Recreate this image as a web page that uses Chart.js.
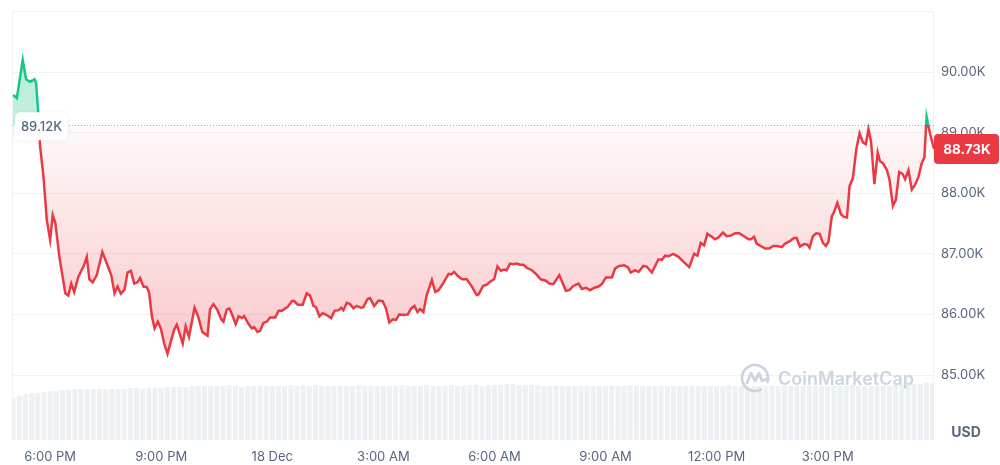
<!DOCTYPE html>
<html>
<head>
<meta charset="utf-8">
<script src="https://cdn.jsdelivr.net/npm/chart.js@4.4.1/dist/chart.umd.min.js"></script>
<style>
  html, body { margin: 0; padding: 0; background: #fff; }
  #priceChart { display: block; }
</style>
</head>
<body>
<canvas id="priceChart" width="1000" height="465"></canvas>
<script>
// ---------------- DATA ----------------
// time in hours after 6:00 PM (17 Dec), price in thousands of USD
const priceHours = [
  -1.00,-0.90,-0.74,-0.65,-0.54,-0.42,-0.38,-0.32,-0.27,-0.18,
  -0.09,0.00,0.07,0.14,0.25,0.41,0.49,0.57,0.65,0.76,
  0.90,0.99,1.06,1.15,1.26,1.41,1.53,1.65,1.74,1.82,
  1.91,2.01,2.09,2.18,2.27,2.36,2.43,2.52,2.61,2.67,
  2.75,2.82,2.91,2.99,3.08,3.17,3.26,3.35,3.42,3.51,
  3.58,3.66,3.75,3.90,4.00,4.11,4.25,4.32,4.41,4.52,
  4.62,4.68,4.77,4.84,4.92,5.01,5.09,5.18,5.24,5.36,
  5.45,5.51,5.60,5.67,5.76,5.85,5.94,6.08,6.17,6.26,
  6.35,6.41,6.53,6.59,6.69,6.82,6.93,7.02,7.11,7.18,
  7.27,7.36,7.47,7.59,7.68,7.79,7.86,7.92,8.01,8.10,
  8.19,8.28,8.39,8.46,8.57,8.64,8.75,8.87,8.98,9.07,
  9.16,9.25,9.34,9.43,9.54,9.66,9.75,9.84,9.92,9.99,
  10.08,10.17,10.31,10.40,10.49,10.62,10.76,10.83,10.91,11.00,
  11.12,11.25,11.39,11.52,11.57,11.69,11.79,11.88,11.99,12.08,
  12.17,12.26,12.33,12.42,12.51,12.60,12.69,12.78,12.87,13.01,
  13.12,13.25,13.37,13.48,13.59,13.75,13.86,13.93,14.02,14.13,
  14.27,14.36,14.47,14.58,14.70,14.81,14.90,15.01,15.17,15.26,
  15.37,15.50,15.60,15.68,15.80,15.89,16.02,16.11,16.25,16.43,
  16.52,16.61,16.70,16.83,16.97,17.10,17.26,17.39,17.48,17.57,
  17.66,17.75,17.87,17.96,18.05,18.17,18.27,18.38,18.50,18.61,
  18.74,18.86,18.93,19.01,19.08,19.22,19.31,19.42,19.53,19.64,
  19.76,19.85,19.98,20.09,20.16,20.25,20.36,20.45,20.51,20.60,
  20.69,20.78,20.87,20.95,21.02,21.11,21.17,21.26,21.36,21.44,
  21.52,21.59,21.68,21.77,21.86,21.95,22.03,22.10,22.17,22.26,
  22.35,22.41,22.50,22.60,22.67,22.76,22.84,22.93,23.02,23.09,
  23.18,23.27,23.36,23.45,23.54,23.61,23.67,23.76,23.87
];
const priceValues = [
  89.62,89.57,90.20,89.88,89.84,89.88,89.82,89.32,88.77,88.27,
  87.56,87.23,87.64,87.51,86.95,86.35,86.31,86.51,86.37,86.62,
  86.79,86.95,86.58,86.53,86.65,87.03,86.84,86.65,86.35,86.46,
  86.34,86.41,86.69,86.72,86.51,86.53,86.60,86.46,86.45,86.37,
  85.96,85.77,85.88,85.77,85.52,85.35,85.55,85.75,85.83,85.66,
  85.52,85.80,85.63,86.11,85.96,85.71,85.65,86.09,86.17,86.07,
  85.92,85.88,86.08,86.10,85.99,85.84,85.97,85.94,85.97,85.84,
  85.77,85.79,85.71,85.73,85.86,85.88,85.95,85.95,86.06,86.06,
  86.10,86.12,86.22,86.22,86.16,86.16,86.35,86.31,86.14,86.12,
  85.97,86.02,85.99,85.94,86.06,86.07,86.11,86.07,86.19,86.17,
  86.10,86.14,86.11,86.12,86.25,86.27,86.14,86.23,86.22,86.10,
  85.87,85.92,85.91,86.00,85.99,86.00,86.10,86.14,86.04,86.09,
  86.04,86.32,86.57,86.37,86.40,86.52,86.67,86.66,86.70,86.64,
  86.58,86.58,86.46,86.32,86.33,86.47,86.49,86.54,86.58,86.79,
  86.72,86.74,86.73,86.84,86.83,86.84,86.82,86.82,86.77,86.73,
  86.67,86.58,86.56,86.51,86.50,86.65,86.49,86.39,86.40,86.47,
  86.51,86.42,86.44,86.40,86.44,86.46,86.50,86.61,86.61,86.76,
  86.80,86.81,86.78,86.69,86.73,86.70,86.80,86.79,86.69,86.91,
  86.90,86.97,86.96,87.00,86.95,86.87,86.78,87.00,86.97,87.18,
  87.14,87.33,87.28,87.24,87.27,87.35,87.29,87.30,87.34,87.34,
  87.29,87.24,87.24,87.28,87.17,87.12,87.09,87.09,87.13,87.13,
  87.11,87.17,87.21,87.26,87.26,87.12,87.16,87.15,87.10,87.29,
  87.34,87.33,87.18,87.13,87.20,87.62,87.69,87.84,87.65,87.61,
  87.60,88.12,88.25,88.72,88.99,88.84,88.81,89.06,88.85,88.15,
  88.67,88.53,88.49,88.38,88.22,87.79,87.89,88.35,88.32,88.23,
  88.38,88.06,88.14,88.27,88.50,88.59,89.26,88.99,88.73
];

// volume bars, one every 10 minutes starting at 5:00 PM (relative units)
const volumeStart = -1.0;
const volumeStep = 1 / 6;
const volumeValues = [
  42,44,46,47,47,48,49,49,50,50,51,51,
  51,51,51,51,51,51,51,52,52,51,52,52,
  52,53,53,53,53,54,54,54,54,54,54,55,
  54,53,54,54,54,54,54,54,54,55,54,55,
  54,55,54,54,54,54,54,54,55,54,54,54,
  54,54,54,55,54,54,54,55,54,54,54,55,
  54,54,55,55,54,55,55,55,56,56,55,55,
  55,55,54,54,54,54,54,54,54,54,54,54,
  54,54,54,54,55,54,54,54,54,54,54,54,
  54,54,54,54,54,54,54,54,55,54,54,54,
  54,54,54,54,54,54,54,54,54,54,54,54,
  54,54,54,54,55,54,54,54,54,54,54,55,
  55,55,56,56,57,57
];

const tickHours = [0, 3, 6, 9, 12, 15, 18, 21];
const tickLabels = ['6:00 PM', '9:00 PM', '18 Dec', '3:00 AM', '6:00 AM', '9:00 AM', '12:00 PM', '3:00 PM'];
const priceTicks = [85, 86, 87, 88, 89, 90];
const openPrice = 89.12;
const lastPrice = 88.73;

// ---------------- STYLE ----------------
const GREEN = '#16c784';
const RED = '#ea3943';
const GRID = '#eff2f5';
const TEXT = '#58667e';
const FONT = 'Inter, "Noto Sans", sans-serif';

function baseFraction(chart) {
  const a = chart.chartArea;
  const y = chart.scales.y.getPixelForValue(openPrice);
  return Math.min(Math.max((y - a.top) / (a.bottom - a.top), 0), 1);
}

function lineColor(context) {
  const chart = context.chart;
  const a = chart.chartArea;
  if (!a) return RED;
  const f = baseFraction(chart);
  const g = chart.ctx.createLinearGradient(0, a.top, 0, a.bottom);
  g.addColorStop(0, GREEN);
  g.addColorStop(f, GREEN);
  g.addColorStop(f, RED);
  g.addColorStop(1, RED);
  return g;
}

function fillColor(context) {
  const chart = context.chart;
  const a = chart.chartArea;
  if (!a) return 'rgba(234,57,67,0.1)';
  const f = baseFraction(chart);
  const yLow = chart.scales.y.getPixelForValue(Math.min(...priceValues));
  const fLow = Math.min(Math.max((yLow - a.top) / (a.bottom - a.top), f), 1);
  const g = chart.ctx.createLinearGradient(0, a.top, 0, a.bottom);
  g.addColorStop(0, 'rgba(22,199,132,0.34)');
  g.addColorStop(f, 'rgba(22,199,132,0.26)');
  g.addColorStop(f, 'rgba(234,57,67,0.03)');
  g.addColorStop(fLow, 'rgba(234,57,67,0.28)');
  g.addColorStop(1, 'rgba(234,57,67,0.28)');
  return g;
}

function roundBox(ctx, x, y, w, h, r) {
  ctx.beginPath();
  ctx.moveTo(x + r, y);
  ctx.arcTo(x + w, y, x + w, y + h, r);
  ctx.arcTo(x + w, y + h, x, y + h, r);
  ctx.arcTo(x, y + h, x, y, r);
  ctx.arcTo(x, y, x + w, y, r);
  ctx.closePath();
}

// frame, dotted open line, watermark, price labels
const backdropPlugin = {
  id: 'backdrop',
  beforeDatasetsDraw(chart) {
    const { ctx, chartArea: a } = chart;
    ctx.save();
    ctx.strokeStyle = GRID;
    ctx.lineWidth = 1;
    ctx.beginPath();
    ctx.moveTo(a.left + 0.5, a.bottom);
    ctx.lineTo(a.left + 0.5, a.top + 0.5);
    ctx.lineTo(a.right - 0.5, a.top + 0.5);
    ctx.lineTo(a.right - 0.5, a.bottom);
    ctx.stroke();

    const yb = Math.round(chart.scales.y.getPixelForValue(openPrice)) + 0.5;
    ctx.strokeStyle = '#a6b0c3';
    ctx.setLineDash([1, 2]);
    ctx.beginPath();
    ctx.moveTo(a.left, yb);
    ctx.lineTo(a.right, yb);
    ctx.stroke();
    ctx.restore();
  },
  afterDatasetsDraw(chart) {
    const { ctx, chartArea: a } = chart;
    const y = chart.scales.y;
    ctx.save();

    // watermark
    ctx.strokeStyle = '#cdd4e1';
    ctx.fillStyle = '#cdd4e1';
    ctx.lineWidth = 2.8;
    ctx.lineCap = 'round';
    ctx.lineJoin = 'round';
    const cx = 755, cy = 378;
    ctx.beginPath();
    ctx.arc(cx, cy, 13, Math.PI * 0.35, Math.PI * 2.1);
    ctx.stroke();
    ctx.beginPath();
    ctx.moveTo(cx - 8, cy + 5);
    ctx.lineTo(cx - 4, cy - 5);
    ctx.lineTo(cx, cy + 3);
    ctx.lineTo(cx + 4, cy - 5);
    ctx.lineTo(cx + 7, cy + 3);
    ctx.lineTo(cx + 11, cy + 1);
    ctx.stroke();
    ctx.font = '600 18px ' + FONT;
    ctx.textAlign = 'left';
    ctx.textBaseline = 'middle';
    ctx.fillText('CoinMarketCap', 778, 380);

    // open price label
    const yb = y.getPixelForValue(openPrice);
    ctx.shadowColor = 'rgba(88,102,126,0.12)';
    ctx.shadowBlur = 4;
    ctx.fillStyle = 'rgba(255,255,255,0.96)';
    roundBox(ctx, 15, yb - 13, 53, 28, 5);
    ctx.fill();
    ctx.shadowBlur = 0;
    ctx.shadowColor = 'transparent';
    ctx.fillStyle = TEXT;
    ctx.font = '500 13px ' + FONT;
    ctx.textAlign = 'center';
    ctx.fillText(openPrice.toFixed(2) + 'K', 41.5, yb + 2);

    // last price label
    const yl = y.getPixelForValue(lastPrice);
    ctx.fillStyle = RED;
    roundBox(ctx, a.right, yl - 15, 65, 30, 4);
    ctx.fill();
    ctx.fillStyle = '#fff';
    ctx.font = 'bold 13.5px ' + FONT;
    ctx.fillText(lastPrice.toFixed(2) + 'K', a.right + 33, yl + 0.5);

    // currency label
    ctx.fillStyle = TEXT;
    ctx.font = 'bold 14px ' + FONT;
    ctx.fillText('USD', 966, 433);
    ctx.restore();
  }
};

// ---------------- CHART ----------------
const priceData = priceHours.map((h, i) => ({ x: h, y: priceValues[i] }));
const volumeData = volumeValues.map((v, i) => ({ x: volumeStart + i * volumeStep, y: v }));

const config = {
  type: 'line',
  data: {
    datasets: [{
      label: 'Price',
      data: priceData,
      borderColor: lineColor,
      backgroundColor: fillColor,
      borderWidth: 2.5,
      pointRadius: 0,
      tension: 0,
      fill: { target: { value: openPrice } },
      yAxisID: 'y',
      order: 0
    }, {
      type: 'bar',
      label: 'Volume',
      data: volumeData,
      backgroundColor: '#eef1f4',
      barPercentage: 0.82,
      categoryPercentage: 1,
      yAxisID: 'yv',
      order: 1
    }]
  },
  options: {
    responsive: false,
    animation: false,
    layout: { padding: { left: 12, top: 11, right: 0, bottom: 0 } },
    plugins: {
      legend: { display: false },
      tooltip: { enabled: false }
    },
    scales: {
      x: {
        type: 'linear',
        min: -1.03,
        max: 23.87,
        offset: false,
        grid: { display: false, drawTicks: false },
        border: { display: false },
        afterBuildTicks: (scale) => { scale.ticks = tickHours.map(v => ({ value: v })); },
        afterFit: (scale) => { scale.height = 25; scale.paddingLeft = 0; scale.paddingRight = 0; },
        ticks: {
          padding: 9,
          maxRotation: 0,
          autoSkip: false,
          color: TEXT,
          font: { family: FONT, size: 13 },
          callback: (v) => tickLabels[tickHours.indexOf(v)]
        }
      },
      y: {
        position: 'right',
        min: 83.928,
        max: 91.007,
        grid: { color: GRID, drawTicks: false },
        border: { display: false },
        afterBuildTicks: (scale) => { scale.ticks = priceTicks.map(v => ({ value: v })); },
        afterFit: (scale) => { scale.width = 66; scale.paddingTop = 0; scale.paddingBottom = 0; },
        ticks: {
          padding: 7,
          color: TEXT,
          font: { family: FONT, size: 13 },
          callback: (v) => v.toFixed(2) + 'K'
        }
      },
      yv: {
        display: false,
        min: 0,
        max: 429
      }
    }
  },
  plugins: [backdropPlugin]
};

const priceChart = new Chart(document.getElementById('priceChart').getContext('2d'), config);
</script>
</body>
</html>
